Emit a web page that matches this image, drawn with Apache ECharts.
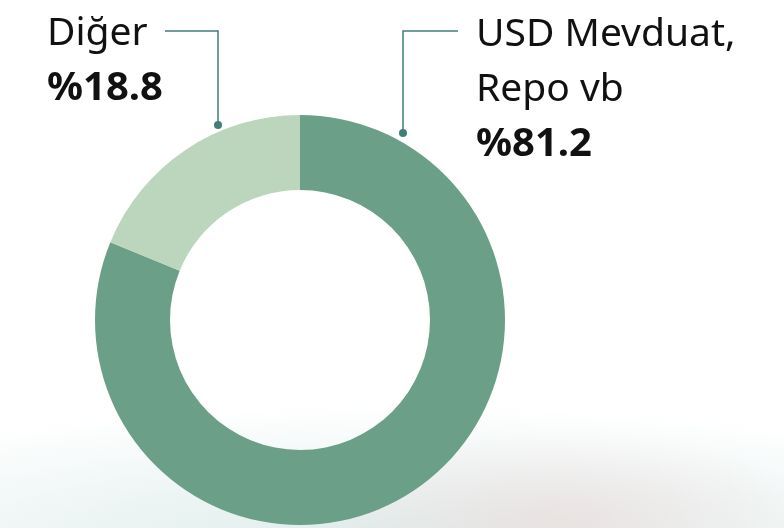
<!DOCTYPE html>
<html>
<head>
<meta charset="utf-8">
<script src="https://cdn.jsdelivr.net/npm/echarts@6/dist/echarts.min.js"></script>
<style>
  html, body { margin: 0; padding: 0; background: #fff; }
  #main {
    width: 784px;
    height: 528px;
    /* faint blurred backdrop at the bottom */
    background:
      radial-gradient(ellipse 260px 90px at 560px 520px, rgba(236, 214, 214, 0.55), rgba(255,255,255,0) 100%),
      radial-gradient(ellipse 720px 140px at 400px 545px, rgba(212, 231, 229, 0.8), rgba(255,255,255,0) 100%),
      #fff;
  }
</style>
</head>
<body>
<div id="main"></div>
<script>
// 数据
const names = ["USD Mevduat,\nRepo vb", "Diğer"];
const values = [81.2, 18.8];
const colors = ["#6b9f88", "#bbd6bc"];

const lineColor = "#3f7f78";
const fmt = (v) => "%" + v.toFixed(1);

const chart = echarts.init(document.getElementById("main"));

const rich = {
  n: { fontFamily: "Noto Sans", fontSize: 39, lineHeight: 55, fill: "#111" },
  v: { fontFamily: "Noto Sans", fontSize: 40, fontWeight: "bold", lineHeight: 55, fill: "#111" },
};

const option = {
  animation: false,
  series: [
    {
      type: "pie",
      center: [300, 320],
      radius: [130, 205],
      startAngle: 90,
      clockwise: true,
      silent: true,
      label: { show: false },
      labelLine: { show: false },
      data: names.map((n, i) => ({
        name: n,
        value: values[i],
        itemStyle: { color: colors[i] },
      })),
    },
  ],
  graphic: [
    // Diğer leader line
    {
      type: "polyline",
      shape: { points: [[218, 125], [218, 31], [165, 31]] },
      style: { stroke: lineColor, lineWidth: 1.5, fill: null },
    },
    { type: "circle", shape: { cx: 218, cy: 125, r: 4 }, style: { fill: lineColor } },
    // USD leader line
    {
      type: "polyline",
      shape: { points: [[403, 133], [403, 31], [458, 31]] },
      style: { stroke: lineColor, lineWidth: 1.5, fill: null },
    },
    { type: "circle", shape: { cx: 403, cy: 133, r: 4 }, style: { fill: lineColor } },
    // labels
    {
      type: "text",
      left: 47,
      top: 14,
      style: {
        text: "{n|" + names[1] + "}\n{v|" + fmt(values[1]) + "}",
        rich: rich,
      },
    },
    {
      type: "text",
      left: 476,
      top: 15,
      style: {
        text: names[0].split("\n").map((s) => "{n|" + s + "}").join("\n") + "\n{v|" + fmt(values[0]) + "}",
        rich: rich,
      },
    },
  ],
};

chart.setOption(option);
</script>
</body>
</html>
